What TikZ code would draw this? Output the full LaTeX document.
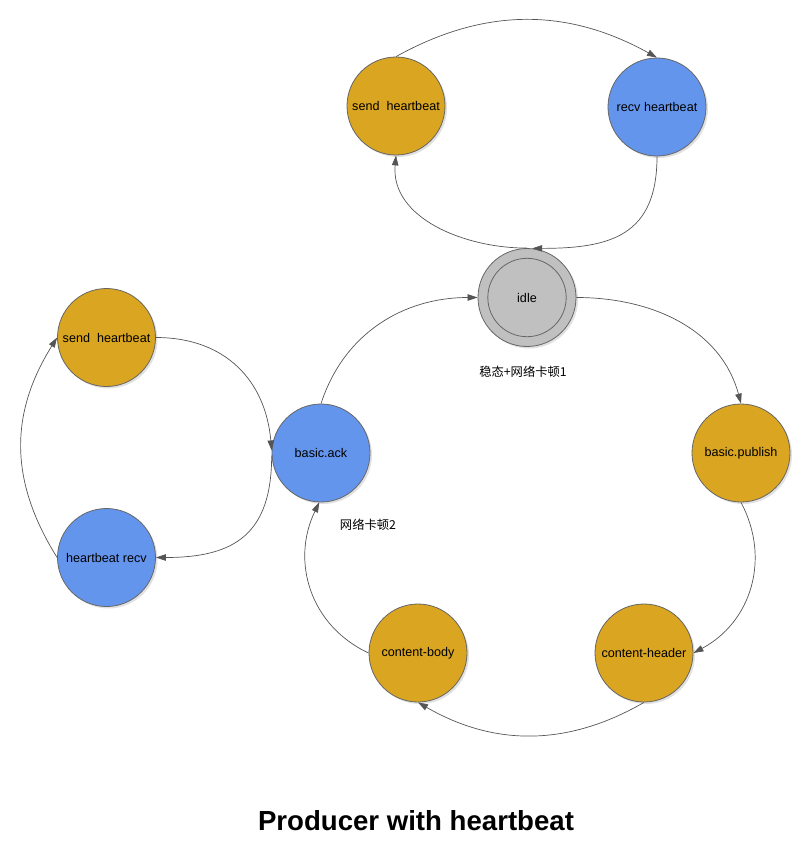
\documentclass[tikz,border=0pt]{standalone}
\usepackage{fontspec}
\setmainfont{Liberation Sans}
\newfontfamily\cjk{Noto Sans CJK SC}
\usetikzlibrary{arrows.meta,shadows}
\definecolor{stgold}{HTML}{DAA520}
\definecolor{stblue}{HTML}{6495ED}
\definecolor{stgray}{HTML}{C0C0C0}
\definecolor{edgec}{HTML}{555555}
\begin{document}
\begin{tikzpicture}[x=1pt,y=1pt,
  st/.style={circle,draw=black!60,line width=0.8pt,minimum size=98pt,inner sep=0pt,
    font=\fontsize{12.6}{14}\selectfont,
    drop shadow={shadow xshift=2pt,shadow yshift=-2pt,fill=black!15,opacity=0.8}},
  goldst/.style={st,fill=stgold},
  bluest/.style={st,fill=stblue},
  grayst/.style={st,fill=stgray},
  innerst/.style={circle,draw=black!60,line width=0.8pt,minimum size=78.4pt,inner sep=0pt,
    font=\fontsize{12.6}{14}\selectfont},
  ed/.style={draw=edgec,line width=0.7pt,-{Triangle[length=10pt,width=6.5pt]}},
  lbl/.style={font=\cjk\fontsize{12.3}{14}\selectfont,inner sep=0pt}
]
\useasboundingbox (0,0) rectangle (799,-848);

\node[goldst] (sh1) at (396,-106) {send\ \ heartbeat};
\node[bluest] (rh) at (657,-107) {recv heartbeat};
\node[grayst] (idle) at (527,-297.5) {};
\node[innerst] (idlein) at (527,-297.5) {idle};
\node[goldst] (bp) at (741,-453) {basic.publish};
\node[goldst] (ch) at (644,-653) {content-header};
\node[goldst] (cb) at (418,-653) {content-body};
\node[bluest] (ba) at (321,-453) {basic.ack};
\node[goldst] (sh2) at (106.5,-337.5) {send\ \ heartbeat};
\node[bluest] (hr) at (106.5,-557.5) {heartbeat recv};

\node[lbl] (l1) at (523,-371.7) {稳态+网络卡顿1};
\node[lbl] (l2) at (368,-525) {网络卡顿2};
\node[font=\fontsize{27.6}{30}\selectfont\bfseries,anchor=base,inner sep=0pt] (title) at (416,-830) {Producer with heartbeat};

\draw[ed] (sh1.north) to[out=29,in=151] (rh.north);
\draw[ed] (rh.south) to[out=-90,in=0,looseness=1.3] (idle.84);
\draw[ed] (idle.north) to[out=180,in=-95] (sh1.south);
\draw[ed] (idle.east) to[out=0,in=105] (bp.north);
\draw[ed] (ba.north) to[out=72,in=180] (idle.west);
\draw[ed] (bp.south) to[out=-62,in=28,looseness=1.05] (ch.east);
\draw[ed] (ch.south) to[out=-150,in=-30] (cb.south);
\draw[ed] (cb.west) to[out=155,in=-116,looseness=1.05] (ba.-92);
\draw[ed] (sh2.east) to[out=0,in=95,looseness=1.1] (ba.177);
\draw[ed] (ba.183) to[out=-90,in=0,looseness=1.3] (hr.east);
\draw[ed] (hr.west) to[out=122,in=-122,looseness=1.05] (sh2.west);
\end{tikzpicture}
\end{document}
